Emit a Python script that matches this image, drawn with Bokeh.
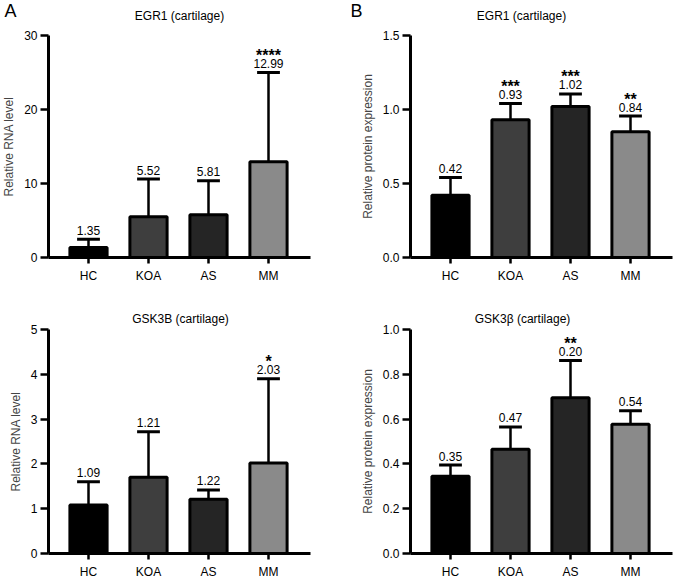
from bokeh.plotting import figure
from bokeh.models import Range1d, FixedTicker, ColumnDataSource, LinearAxis
from bokeh.layouts import column, row
from bokeh.embed import file_html
from bokeh.resources import INLINE
from bokeh.core.properties import value

categories = ["HC", "KOA", "AS", "MM"]
bar_colors = ["#000000", "#3e3e3e", "#252525", "#8a8a8a"]

# Panel A top: EGR1 RNA
rna_egr1_mean = [1.35, 5.52, 5.79, 12.95]
rna_egr1_err = [2.48, 10.6, 10.37, 25.0]
rna_egr1_labels = ["1.35", "5.52", "5.81", "12.99"]
rna_egr1_stars = ["", "", "", "****"]
rna_egr1_ticks = [0, 10, 20, 30]
rna_egr1_ticklabels = ["0", "10", "20", "30"]

# Panel A bottom: GSK3B RNA
rna_gsk3b_mean = [1.08, 1.70, 1.21, 2.02]
rna_gsk3b_err = [1.60, 2.72, 1.42, 3.90]
rna_gsk3b_labels = ["1.09", "1.21", "1.22", "2.03"]
rna_gsk3b_stars = ["", "", "", "*"]
rna_gsk3b_ticks = [0, 1, 2, 3, 4, 5]
rna_gsk3b_ticklabels = ["0", "1", "2", "3", "4", "5"]

# Panel B top: EGR1 protein
prot_egr1_mean = [0.42, 0.93, 1.02, 0.85]
prot_egr1_err = [0.54, 1.04, 1.105, 0.956]
prot_egr1_labels = ["0.42", "0.93", "1.02", "0.84"]
prot_egr1_stars = ["", "***", "***", "**"]
prot_egr1_ticks = [0, 0.5, 1.0, 1.5]
prot_egr1_ticklabels = ["0.0", "0.5", "1.0", "1.5"]

# Panel B bottom: GSK3beta protein
prot_gsk3b_mean = [0.345, 0.465, 0.695, 0.577]
prot_gsk3b_err = [0.395, 0.565, 0.862, 0.637]
prot_gsk3b_labels = ["0.35", "0.47", "0.20", "0.54"]
prot_gsk3b_stars = ["", "", "**", ""]
prot_gsk3b_ticks = [0, 0.2, 0.4, 0.6, 0.8, 1.0]
prot_gsk3b_ticklabels = ["0.0", "0.2", "0.4", "0.6", "0.8", "1.0"]

FONT = "Liberation Sans"
SPACING = 60.0  # pixels between bar centres


def panel(title, letter, ylabel, means, errs, labels, stars, ticks, ticklabels,
          W, H, axis_px, top_px, zero_px, title_x_px, title_y_px, letter_x_px):
    ymax = ticks[-1]
    c0 = axis_px + 40.0
    k = (zero_px - top_px) / ymax

    def px2x(px):
        return (px - c0) / SPACING

    def px2y(py):
        return (zero_px - py) / k

    x_left = px2x(axis_px)
    x_right = px2x(axis_px + 262)

    xs = list(range(len(categories)))
    src = ColumnDataSource(dict(
        x=xs, mean=means, err=errs, lab=labels, stars=stars, color=bar_colors,
        cap0=[x - 0.19 for x in xs], cap1=[x + 0.19 for x in xs],
    ))
    p = figure(width=W, height=H, output_backend="svg", toolbar_location=None,
               title=None, x_axis_type=None, y_axis_type=None,
               x_range=Range1d(px2x(0), px2x(W)), y_range=Range1d(px2y(H), px2y(0)),
               min_border=0, min_border_left=0, min_border_right=0,
               min_border_top=0, min_border_bottom=0,
               outline_line_color=None, background_fill_color="white",
               border_fill_color="white")
    p.xgrid.visible = False
    p.ygrid.visible = False

    p.segment(x0="x", y0="mean", x1="x", y1="err", source=src,
              line_color="black", line_width=2.5)
    p.segment(x0="cap0", y0="err", x1="cap1", y1="err", source=src,
              line_color="black", line_width=3)
    p.vbar(x="x", top="mean", bottom=0, width=0.62, source=src,
           fill_color="color", line_color="black", line_width=3)
    p.text(x="x", y="err", text="lab", source=src, text_align="center",
           text_baseline="alphabetic", y_offset=-9, text_font=value(FONT),
           text_font_size="12px", text_color="black")
    p.text(x="x", y="err", text="stars", source=src, text_align="center",
           text_baseline="alphabetic", y_offset=-17, text_font=value(FONT),
           text_font_size="16px", text_font_style="bold", text_color="black")

    # panel title and letter
    p.text(x=[px2x(title_x_px)], y=[px2y(title_y_px)], text=[title],
           text_align="center", text_baseline="middle", text_font=value(FONT),
           text_font_size="12px", text_color="black")
    if letter:
        p.text(x=[px2x(letter_x_px)], y=[px2y(10)], text=[letter],
               text_align="left", text_baseline="middle", text_font=value(FONT),
               text_font_size="18px", text_color="black")

    ya = LinearAxis(fixed_location=x_left, bounds=(0, ymax))
    ya.ticker = FixedTicker(ticks=ticks)
    ya.major_label_overrides = {t: l for t, l in zip(ticks, ticklabels)}
    ya.axis_label = ylabel
    ya.axis_label_text_font = FONT
    ya.axis_label_text_font_size = "12px"
    ya.axis_label_text_font_style = "normal"
    ya.axis_label_standoff = 5
    ya.major_label_text_font = FONT
    ya.major_label_text_font_size = "12px"
    ya.major_label_text_color = "black"
    ya.axis_line_width = 3
    ya.major_tick_line_width = 2.5
    ya.major_tick_out = 8
    ya.major_tick_in = 0
    ya.minor_tick_line_color = None
    ya.major_label_standoff = 3
    p.add_layout(ya, "left")

    xa = LinearAxis(fixed_location=0, bounds=(x_left, x_right))
    xa.ticker = FixedTicker(ticks=xs)
    xa.major_label_overrides = {i: c for i, c in enumerate(categories)}
    xa.major_label_text_font = FONT
    xa.major_label_text_font_size = "12px"
    xa.major_label_text_color = "black"
    xa.axis_line_width = 3
    xa.major_tick_line_width = 2.5
    xa.major_tick_out = 6
    xa.major_tick_in = 0
    xa.minor_tick_line_color = None
    xa.major_label_standoff = 5
    p.add_layout(xa, "below")
    return p


p1 = panel("EGR1 (cartilage)", "A", "Relative RNA level", rna_egr1_mean, rna_egr1_err,
           rna_egr1_labels, rna_egr1_stars, rna_egr1_ticks, rna_egr1_ticklabels,
           338, 291, 48, 35, 257, 179, 15, 4)
p2 = panel("EGR1 (cartilage)", "B", "Relative protein expression", prot_egr1_mean,
           prot_egr1_err, prot_egr1_labels, prot_egr1_stars, prot_egr1_ticks,
           prot_egr1_ticklabels, 339, 291, 72, 35, 257, 183, 15, 12)
p3 = panel("GSK3B (cartilage)", "", "Relative RNA level", rna_gsk3b_mean, rna_gsk3b_err,
           rna_gsk3b_labels, rna_gsk3b_stars, rna_gsk3b_ticks, rna_gsk3b_ticklabels,
           338, 291, 48, 38, 262, 180, 27, 0)
p4 = panel("GSK3β (cartilage)", "", "Relative protein expression", prot_gsk3b_mean,
           prot_gsk3b_err, prot_gsk3b_labels, prot_gsk3b_stars, prot_gsk3b_ticks,
           prot_gsk3b_ticklabels, 339, 291, 72, 38, 262, 184, 27, 0)

layout = column(row(p1, p2, spacing=0), row(p3, p4, spacing=0), spacing=0)
open("out.html", "w").write(file_html(layout, INLINE))
